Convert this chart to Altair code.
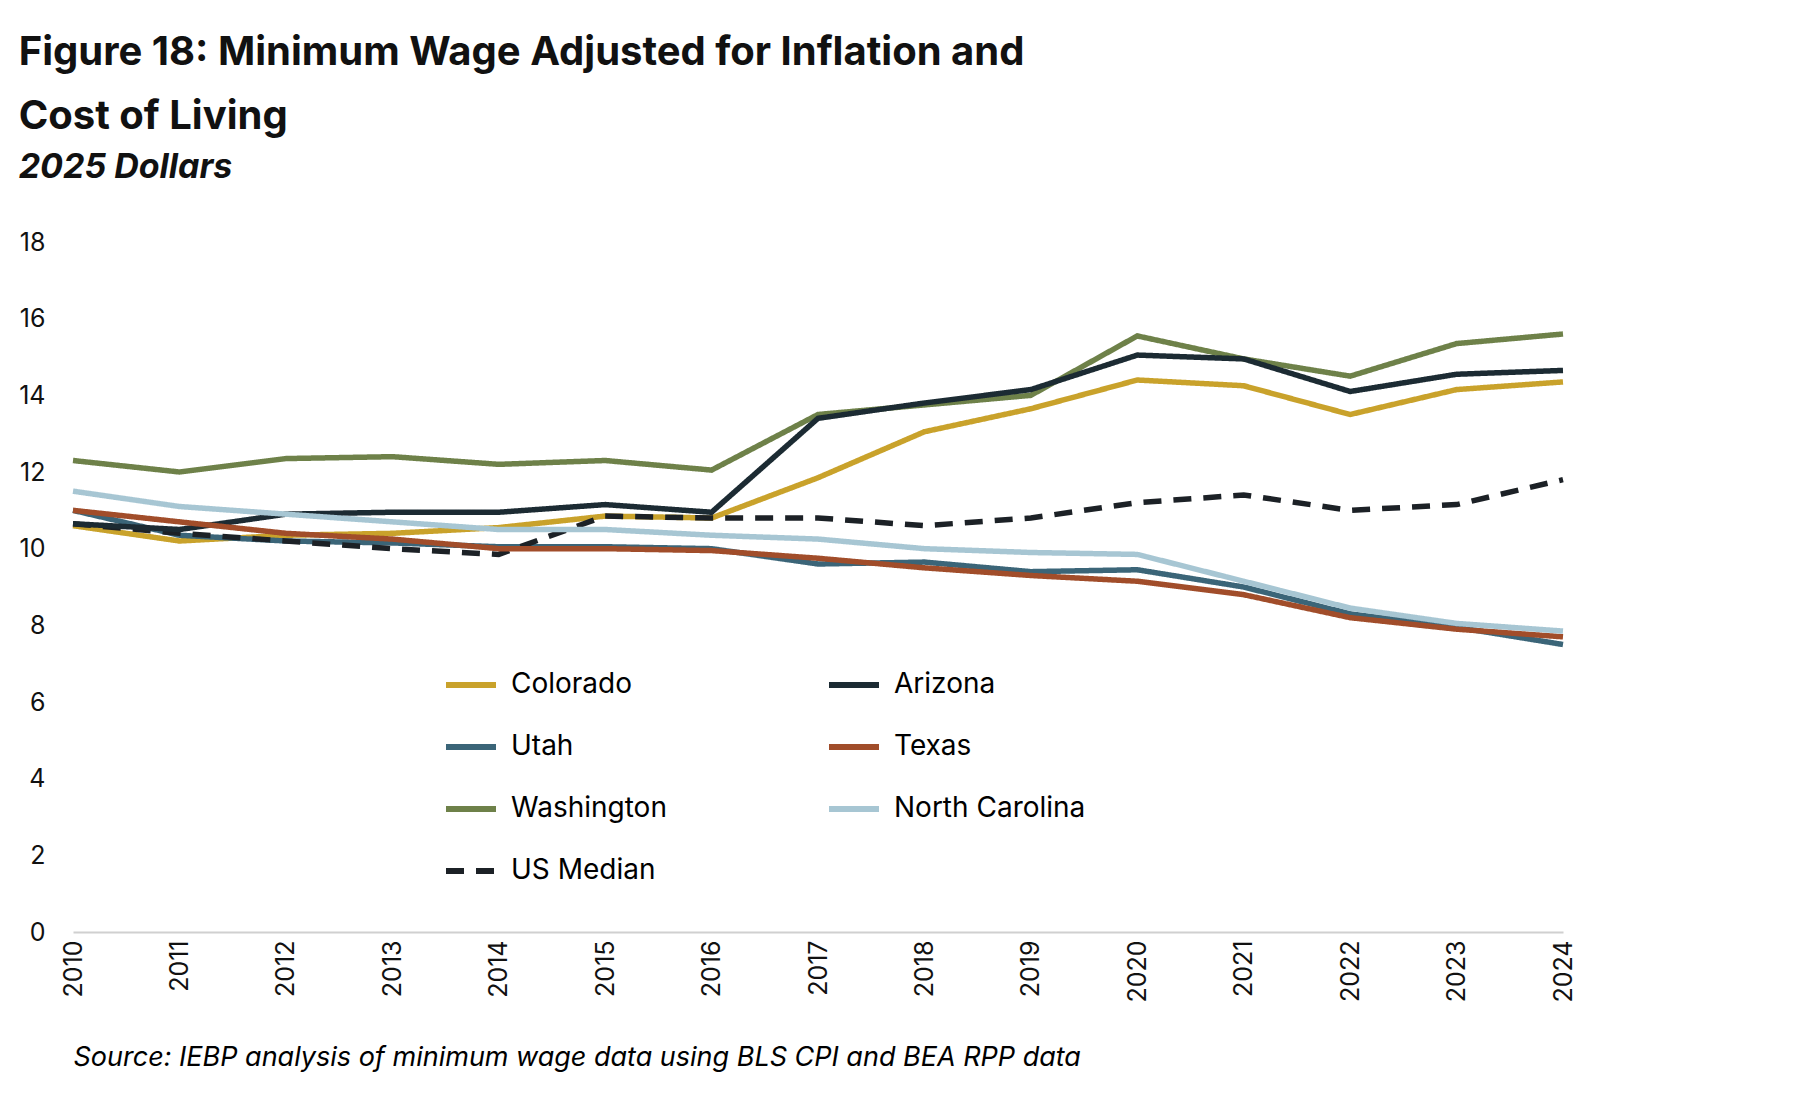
import altair as alt
import pandas as pd

years = list(range(2010, 2025))
colorado = [10.6, 10.2, 10.35, 10.4, 10.55, 10.85, 10.8, 11.85, 13.05, 13.65, 14.4, 14.25, 13.5, 14.15, 14.35]
arizona = [10.65, 10.5, 10.9, 10.95, 10.95, 11.15, 10.95, 13.4, 13.8, 14.15, 15.05, 14.95, 14.1, 14.55, 14.65]
utah = [11.0, 10.35, 10.2, 10.15, 10.05, 10.05, 10.0, 9.6, 9.65, 9.4, 9.45, 9.0, 8.3, 7.95, 7.5]
texas = [11.0, 10.7, 10.4, 10.25, 10.0, 10.0, 9.95, 9.75, 9.5, 9.3, 9.15, 8.8, 8.2, 7.9, 7.7]
washington = [12.3, 12.0, 12.35, 12.4, 12.2, 12.3, 12.05, 13.5, 13.75, 14.0, 15.55, 14.95, 14.5, 15.35, 15.6]
north_carolina = [11.5, 11.1, 10.9, 10.7, 10.5, 10.5, 10.35, 10.25, 10.0, 9.9, 9.85, 9.15, 8.45, 8.05, 7.85]
us_median = [10.65, 10.4, 10.2, 10.0, 9.85, 10.85, 10.8, 10.8, 10.6, 10.8, 11.2, 11.4, 11.0, 11.15, 11.8]

series = {
    "Colorado": colorado,
    "Utah": utah,
    "Washington": washington,
    "US Median": us_median,
    "Arizona": arizona,
    "Texas": texas,
    "North Carolina": north_carolina,
}
colors = ["#c9a22b", "#3b6578", "#6e8149", "#1c2126", "#1c2b33", "#a14d2a", "#a7c6d3"]
dashes = [[1, 0], [1, 0], [1, 0], [18, 12], [1, 0], [1, 0], [1, 0]]

rows = []
for name, vals in series.items():
    for y, v in zip(years, vals):
        rows.append({"year": str(y), "state": name, "value": v})
df = pd.DataFrame(rows)
order = list(series.keys())

font = "Inter"
chart = (
    alt.Chart(df)
    .mark_line(strokeWidth=5.5)
    .encode(
        x=alt.X(
            "year:O",
            scale=alt.Scale(padding=0),
            axis=alt.Axis(
                labelAngle=270, labelFontSize=25, labelColor="#111", ticks=False,
                domainColor="#d0d0d0", domainWidth=2, grid=False, labelPadding=8,
                title="Source: IEBP analysis of minimum wage data using BLS CPI and BEA RPP data",
                titleFontStyle="italic", titleFontWeight="normal", titleFontSize=27,
                titleAnchor="start", titleAlign="left", titleX=0, titleY=112,
            ),
        ),
        y=alt.Y(
            "value:Q",
            scale=alt.Scale(domain=[0, 18]),
            axis=alt.Axis(values=list(range(0, 19, 2)), labelFontSize=25, labelColor="#111",
                          grid=False, domain=False, ticks=False, title=None, labelPadding=28),
        ),
        color=alt.Color("state:N", sort=order, scale=alt.Scale(domain=order, range=colors),
                        legend=alt.Legend(title=None, orient="none", legendX=370, legendY=415,
                                          columns=2, columnPadding=150, labelFontSize=28,
                                          symbolType="stroke", symbolSize=2500, symbolStrokeWidth=6,
                                          rowPadding=20, labelLimit=400, labelOffset=12)),
        strokeDash=alt.StrokeDash("state:N", sort=order, scale=alt.Scale(domain=order, range=dashes),
                                  legend=None),
    )
    .properties(
        width=1490, height=690,
        padding={"top": 25, "left": 10, "right": 20, "bottom": 10},
        title=alt.TitleParams(
            ["Figure 18: Minimum Wage Adjusted for Inflation and", "Cost of Living"],
            subtitle="2025 Dollars", anchor="start", fontSize=40, fontWeight="bold",
            subtitleFontSize=34, subtitleFontStyle="italic", subtitleFontWeight="bold",
            subtitleColor="#111", lineHeight=64, subtitlePadding=14, offset=45, color="#111",
        ),
    )
    .configure(font=font)
    .configure_view(stroke=None)
)
chart.save("out.html", embed_options={"renderer": "svg", "actions": False})
